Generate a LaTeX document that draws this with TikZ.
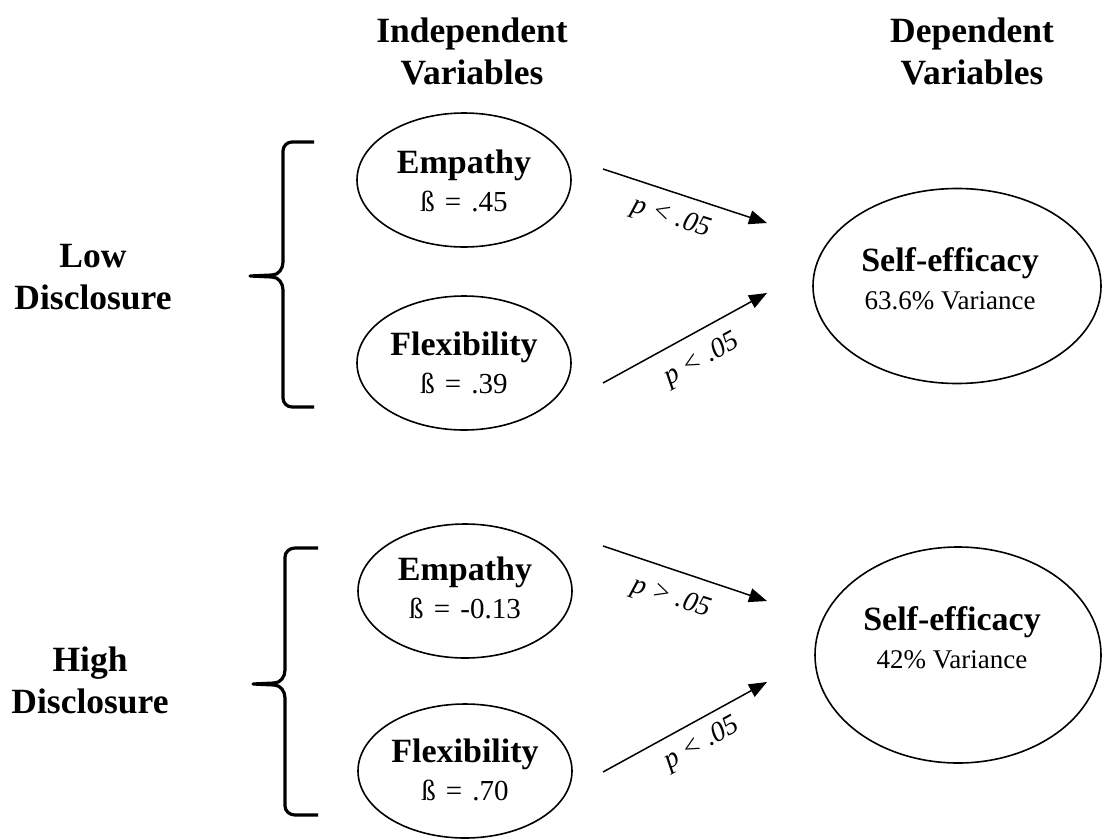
\documentclass[tikz,border=0pt]{standalone}
\usepackage{fontspec}
\setmainfont{Liberation Serif}
\usetikzlibrary{shapes.geometric,arrows.meta}
\begin{document}
\begin{tikzpicture}[x=1pt,y=-1pt,
  ell/.style={draw,ellipse,line width=1.6pt,inner sep=0pt},
  small/.style={ell,minimum width=214pt,minimum height=134pt},
  big/.style={ell},
  hd/.style={font=\fontsize{35.5}{42}\selectfont\bfseries,align=center,inner sep=0pt},
  inn/.style={align=center,inner sep=0pt,font=\fontsize{27}{38}\selectfont},
  plab/.style={inner sep=0pt,font=\fontsize{28}{30}\selectfont\itshape},
  conn/.style={line width=1.5pt,-{Triangle[length=18pt,width=14pt]}},
  brace/.style={line width=3.2pt,line join=round}]
\useasboundingbox (0,0) rectangle (1102,838);
\newcommand{\bt}[1]{{\fontsize{34}{38}\selectfont\bfseries #1}}
\newcommand{\bb}[1]{{\fontsize{29}{38}\selectfont ß\hspace{0.35em}=\hspace{0.35em}#1}}
% headers
\node[hd] (hi) at (472,51) {Independent\\Variables};
\node[hd] (hd) at (972,51) {Dependent\\Variables};
\node[hd] (low) at (93,277) {Low\\Disclosure};
\node[hd] (high) at (90,680) {High\\Disclosure};
% left ellipses
\node[small] (e1) at (464,180) {};
\node[inn] (e1t) at (464,181) {\bt{Empathy}\\\bb{.45}};
\node[small] (f1) at (464,363) {};
\node[inn] (f1t) at (464,363) {\bt{Flexibility}\\\bb{.39}};
\node[small] (e2) at (465,591) {};
\node[inn] (e2t) at (465,588) {\bt{Empathy}\\\bb{-0.13}};
\node[small] (f2) at (465,771) {};
\node[inn] (f2t) at (465,770) {\bt{Flexibility}\\\bb{.70}};
% right ellipses
\node[big,minimum width=288pt,minimum height=195pt] (s1) at (957,286) {};
\node[inn] (s1t) at (950,279) {\bt{Self-efficacy}\\63.6\% Variance};
\node[big,minimum width=286pt,minimum height=216pt] (s2) at (958,655) {};
\node[inn] (s2t) at (952,638) {\bt{Self-efficacy}\\42\% Variance};
% arrow endpoints
\coordinate (a1s) at (603,169); \coordinate (a1e) at (767,223);
\coordinate (a2s) at (603,383); \coordinate (a2e) at (767,293);
\coordinate (a3s) at (603,546); \coordinate (a3e) at (767,601);
\coordinate (a4s) at (603,772); \coordinate (a4e) at (767,682);
\draw[conn] (a1s) -- (a1e);
\draw[conn] (a2s) -- (a2e);
\draw[conn] (a3s) -- (a3e);
\draw[conn] (a4s) -- (a4e);
\node[plab,rotate=-18] (l1) at (671,218) {p < .05};
\node[plab,rotate=29] (l2) at (702,360) {p < .05};
\node[plab,rotate=-18] (l3) at (671,598) {p > .05};
\node[plab,rotate=29] (l4) at (702,744) {p < .05};
% brackets
\draw[brace] (314,142) -- (292,142) to[out=180,in=90] (283,151) -- (283,262)
  to[out=-90,in=0] (272,275) -- (250,276) -- (272,277) to[out=0,in=90] (283,290)
  -- (283,398) to[out=-90,in=180] (292,407) -- (314,407);
\draw[brace] (318,548) -- (295,548) to[out=180,in=90] (285,557) -- (285,670)
  to[out=-90,in=0] (274,683) -- (253,684) -- (274,685) to[out=0,in=90] (285,698)
  -- (285,806) to[out=-90,in=180] (295,815) -- (318,815);
\end{tikzpicture}
\end{document}
